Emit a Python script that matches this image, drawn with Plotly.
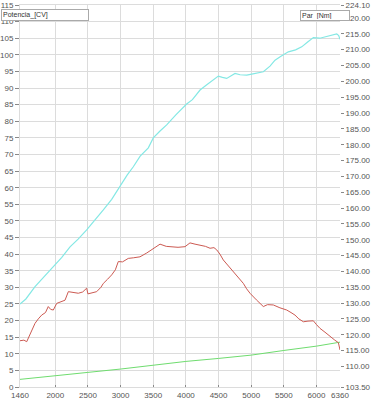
import plotly.graph_objects as go

# ---- data ----
pot_rpm = [1460, 1550, 1690, 1800, 1985, 2100, 2226, 2350, 2481, 2600, 2736, 2864, 2991, 3100,
           3195, 3300, 3425, 3501, 3600, 3706, 3850, 4012, 4100, 4217, 4320, 4420, 4497, 4560,
           4625, 4700, 4753, 4830, 4932, 5008, 5100, 5186, 5288, 5365, 5450, 5569, 5680, 5774,
           5860, 5952, 6050, 6131, 6220, 6310, 6340, 6360]
pot_cv = [25.0, 26.5, 30.2, 32.5, 36.7, 39.0, 42.2, 44.5, 47.3, 50.0, 53.3, 56.5, 60.5, 63.8,
          66.3, 69.5, 72.0, 75.0, 77.0, 78.9, 82.0, 85.2, 86.5, 89.4, 91.0, 92.6, 93.6, 93.2,
          92.9, 93.8, 94.4, 94.0, 93.9, 94.2, 94.6, 94.9, 96.6, 98.4, 99.5, 100.9, 101.5, 102.4,
          103.8, 105.2, 105.0, 105.4, 105.8, 106.3, 105.8, 104.7]

par_rpm = [1460, 1520, 1563, 1613, 1650, 1690, 1740, 1792, 1850, 1893, 1930, 1970, 2022, 2080,
           2149, 2200, 2260, 2353, 2420, 2481, 2500, 2560, 2634, 2700, 2736, 2800, 2864, 2920,
           2965, 3030, 3118, 3200, 3297, 3400, 3477, 3540, 3604, 3700, 3783, 3880, 3987, 4063,
           4140, 4217, 4300, 4370, 4430, 4472, 4520, 4573, 4650, 4727, 4800, 4880, 4930, 4982,
           5080, 5186, 5250, 5339, 5440, 5544, 5610, 5671, 5730, 5799, 5870, 5952, 6000, 6054,
           6130, 6207, 6280, 6335, 6350, 6360]
par_nm = [118.1, 118.3, 117.8, 119.9, 121.8, 123.6, 125.0, 126.2, 127.0, 128.9, 128.0, 127.8,
          129.9, 130.3, 130.9, 133.6, 133.4, 133.1, 133.5, 134.7, 132.9, 133.2, 133.6, 135.0,
          136.2, 137.5, 138.9, 140.5, 143.1, 143.0, 144.1, 144.3, 144.6, 145.8, 146.8, 147.5,
          148.6, 147.9, 147.8, 147.6, 147.8, 149.0, 148.6, 148.3, 147.9, 147.3, 147.5, 146.8,
          145.5, 143.6, 141.8, 139.9, 138.0, 136.2, 134.5, 133.1, 131.0, 128.9, 129.5, 129.4,
          128.5, 127.8, 127.0, 126.2, 125.0, 124.1, 124.3, 124.4, 123.2, 122.0, 120.8, 119.4,
          118.3, 117.5, 116.0, 115.2]

verde_rpm = [1460, 2000, 2500, 3000, 3500, 4000, 4500, 5000, 5500, 6000, 6360]
verde_val = [2.3, 3.3, 4.4, 5.4, 6.6, 7.7, 8.6, 9.6, 11.0, 12.3, 13.5]

x_ticks = [1460, 2000, 2500, 3000, 3500, 4000, 4500, 5000, 5500, 6000, 6360]
left_ticks = list(range(0, 116, 5))
right_ticks = [103.5] + list(range(110, 221, 5)) + [224.1]
right_labels = ["%.2f" % v for v in right_ticks]

fam = "Liberation Sans, Arial, sans-serif"
font_tick = dict(family=fam, size=8, color="#555555")
grid = "#dcdcdc"
tickc = "#888888"

fig = go.Figure()
fig.add_trace(go.Scatter(x=verde_rpm, y=verde_val, mode="lines",
                         line=dict(color="#6fdc6f", width=1), yaxis="y"))
fig.add_trace(go.Scatter(x=pot_rpm, y=pot_cv, mode="lines",
                         line=dict(color="#84e8e4", width=1.2), yaxis="y"))
fig.add_trace(go.Scatter(x=par_rpm, y=par_nm, mode="lines",
                         line=dict(color="#cc5a52", width=1), yaxis="y2"))

fig.update_layout(
    width=371, height=400,
    margin=dict(l=20, r=31, t=5, b=13),
    paper_bgcolor="white", plot_bgcolor="white",
    showlegend=False,
    xaxis=dict(range=[1460, 6360], tickvals=x_ticks, ticktext=[str(v) for v in x_ticks],
               showgrid=True, gridcolor=grid, gridwidth=1, zeroline=False,
               ticks="inside", ticklen=2, tickcolor=tickc, tickfont=font_tick,
               showline=True, linecolor=grid, mirror=True, automargin=False),
    yaxis=dict(range=[0, 115], tickvals=left_ticks, ticktext=[str(v) for v in left_ticks],
               showgrid=True, gridcolor=grid, gridwidth=1, zeroline=False,
               ticks="outside", ticklen=4, tickcolor=tickc, tickfont=font_tick,
               showline=True, linecolor=grid, automargin=False),
    yaxis2=dict(range=[103.5, 224.1], overlaying="y", side="right",
                tickvals=right_ticks, ticktext=right_labels, showgrid=False,
                zeroline=False, ticks="outside", ticklen=3, tickcolor=tickc,
                tickfont=font_tick, showline=False, automargin=False),
    annotations=[
        dict(text="Potencia_[CV]", xref="paper", yref="paper",
             x=(1 - 20) / 320, y=1 - (9 - 5) / 382, xanchor="left", yanchor="top",
             showarrow=False, align="left", width=84, height=8,
             font=dict(family=fam, size=7, color="#333333"),
             bgcolor="white", bordercolor="#aaaaaa", borderwidth=1, borderpad=1),
        dict(text="Par_[Nm]", xref="paper", yref="paper",
             x=(300 - 20) / 320, y=1 - (10 - 5) / 382, xanchor="left", yanchor="top",
             showarrow=False, align="left", width=46, height=7,
             font=dict(family=fam, size=7, color="#333333"),
             bgcolor="white", bordercolor="#aaaaaa", borderwidth=1, borderpad=1),
    ],
)

fig.write_html("out.html",
               config={"displayModeBar": False},
               post_script="document.body.style.margin='0';document.body.style.padding='0';")
